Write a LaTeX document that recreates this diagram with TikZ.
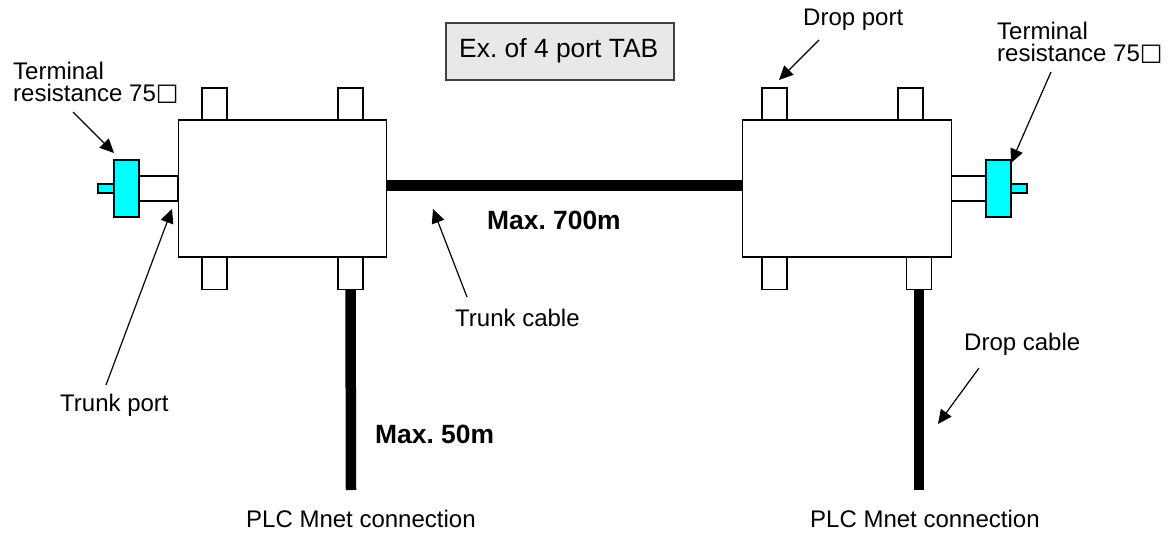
\documentclass[tikz,border=0pt]{standalone}
\usepackage{fontspec}
\setmainfont{Liberation Sans}
\newfontfamily\symfont{DejaVu Sans}
\usetikzlibrary{arrows.meta}
\definecolor{termcyan}{RGB}{0,255,255}
\newcommand{\ohmbox}{\raisebox{1pt}{\symfont □}}
\tikzset{
  lbl/.style={anchor=base west,inner sep=0pt,font=\fontsize{24}{28.8}\selectfont},
  twolbl/.style={anchor=north west,inner sep=0pt,align=left,font=\fontsize{24}{22.6}\selectfont},
  maxlbl/.style={anchor=base west,inner sep=0pt,font=\fontsize{26.4}{31.2}\selectfont\bfseries},
  tab/.style={draw,line width=1.4pt,fill=white,minimum width=208.5pt,minimum height=137pt,inner sep=0pt},
  port/.style={draw,line width=1.4pt,fill=white,minimum width=25pt,minimum height=33pt,inner sep=0pt},
  stub/.style={draw,line width=1.4pt,fill=white,minimum width=39pt,minimum height=25pt,inner sep=0pt},
  resist/.style={draw,line width=1.7pt,fill=termcyan,minimum width=25pt,minimum height=57pt,inner sep=0pt},
  pin/.style={draw,line width=1.7pt,fill=termcyan,minimum width=16pt,minimum height=9pt,inner sep=0pt},
  cable/.style={line width=10.5pt},
  pointer/.style={line width=1.2pt,-{Triangle[length=14pt,width=13pt]}}
}
\begin{document}
\begin{tikzpicture}[x=1pt,y=-1pt]
\path[use as bounding box] (0,0) rectangle (1170,535);
\node[draw=black!75,line width=1.2pt,fill=black!9,minimum width=228pt,minimum height=57pt,inner sep=0pt] (title) at (560,51.5) {};
\node[lbl,font=\fontsize{26.4}{31.2}\selectfont] (titletext) at (459,58) {Ex.\ of 4 port TAB};
\node[port] (portLa) at (214.5,104.5) {};
\node[port] (portLb) at (350.5,104.5) {};
\node[port] (portLc) at (214.5,273) {};
\node[port] (portLd) at (350.5,273) {};
\node[stub] (stubL) at (158.5,188.5) {};
\node[pin] (pinL) at (106,188.5) {};
\node[resist] (resL) at (126.5,188.5) {};
\node[tab] (tabL) at (282.5,188.5) {};
\node[port] (portRa) at (774.5,104.5) {};
\node[port] (portRb) at (910.5,104.5) {};
\node[port] (portRc) at (774.5,273) {};
\node[port] (portRd) at (919,273) {};
\node[stub] (stubR) at (966.5,188.5) {};
\node[pin] (pinR) at (1019,188.5) {};
\node[resist] (resR) at (998.5,188.5) {};
\node[tab] (tabR) at (847,188.5) {};
\coordinate (plcL) at (351,490);
\coordinate (plcR) at (919,490);
\draw[cable] ([yshift=3pt]tabL.east) -- ([yshift=3pt]tabR.west);
\draw[cable] ([yshift=1pt]portLd.south) -- (plcL);
\draw[cable] ([yshift=1pt]portRd.south) -- (plcR);
\node[twolbl] (termL) at (13,61.5) {Terminal\\resistance 75\ohmbox};
\node[twolbl] (termR) at (997,21.5) {Terminal\\resistance 75\ohmbox};
\node[lbl] (dropport) at (803,26) {Drop port};
\node[lbl] (trunkport) at (60,411) {Trunk port};
\node[lbl] (trunkcable) at (455,326) {Trunk cable};
\node[lbl] (dropcable) at (964,350) {Drop cable};
\node[maxlbl] (maxtrunk) at (487,229) {Max.\ 700m};
\node[maxlbl] (maxdrop) at (375,443) {Max.\ 50m};
\node[lbl] (plcLtext) at (246,527) {PLC Mnet connection};
\node[lbl] (plcRtext) at (810,527) {PLC Mnet connection};
\coordinate (tipA) at (73,112);
\coordinate (tipB) at (114,153);
\coordinate (tipC) at (106,385);
\coordinate (tipD) at (172,209);
\coordinate (tipE) at (467,297);
\coordinate (tipF) at (433,209);
\coordinate (tipG) at (819,40);
\coordinate (tipH) at (779,80);
\coordinate (tipI) at (1051,72);
\coordinate (tipJ) at (1011,163);
\coordinate (tipK) at (979,368);
\coordinate (tipL) at (938,424);
\draw[pointer] (tipA) -- (tipB);
\draw[pointer] (tipC) -- (tipD);
\draw[pointer] (tipE) -- (tipF);
\draw[pointer] (tipG) -- (tipH);
\draw[pointer] (tipI) -- (tipJ);
\draw[pointer] (tipK) -- (tipL);
\end{tikzpicture}
\end{document}
